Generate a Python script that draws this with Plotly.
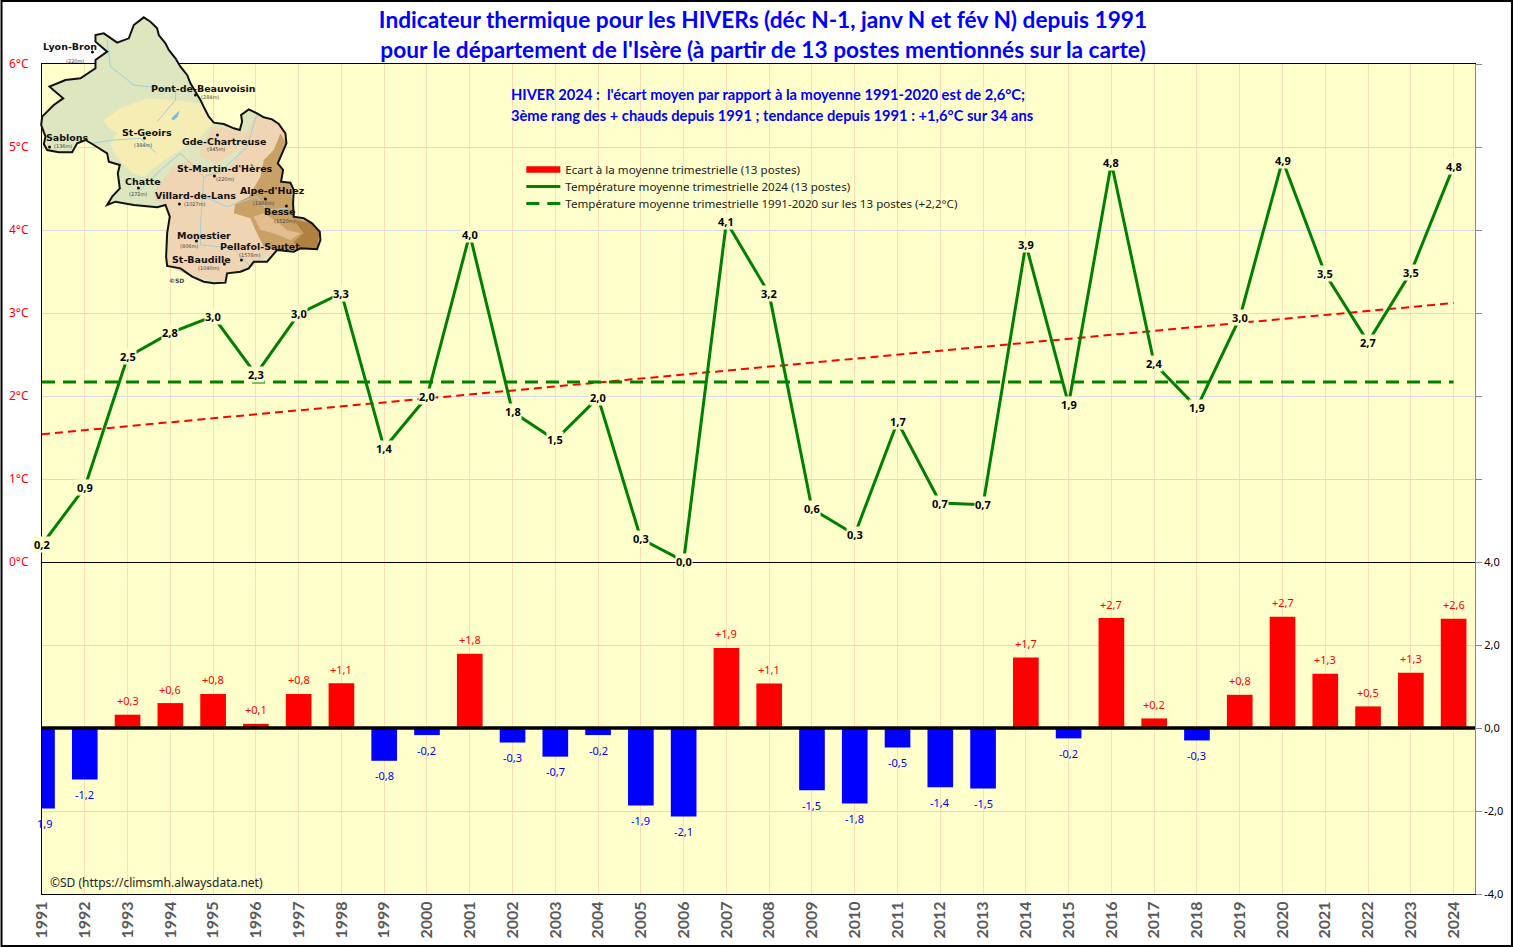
import plotly.graph_objects as go

years = list(range(1991, 2025))
temperature = [0.21, 0.90, 2.47, 2.76, 2.96, 2.26, 2.99, 3.24, 1.37, 1.99, 3.95, 1.81, 1.47, 1.98, 0.28, 0.01, 4.10,
               3.23, 0.64, 0.33, 1.69, 0.71, 0.69, 3.83, 1.90, 4.81, 2.39, 1.86, 2.94, 4.84, 3.47, 2.65, 3.49, 4.77]
temperature_labels = ["0,2", "0,9", "2,5", "2,8", "3,0", "2,3", "3,0", "3,3", "1,4", "2,0", "4,0", "1,8", "1,5", "2,0",
                      "0,3", "0,0", "4,1", "3,2", "0,6", "0,3", "1,7", "0,7", "0,7", "3,9", "1,9", "4,8", "2,4", "1,9",
                      "3,0", "4,9", "3,5", "2,7", "3,5", "4,8"]
anomaly = [-1.94, -1.24, 0.32, 0.60, 0.82, 0.10, 0.82, 1.08, -0.79, -0.17, 1.79, -0.35, -0.69, -0.17, -1.87, -2.13,
           1.93, 1.07, -1.50, -1.82, -0.47, -1.43, -1.46, 1.70, -0.25, 2.65, 0.23, -0.30, 0.80, 2.68, 1.31, 0.52, 1.33,
           2.63]
anomaly_labels = ["1,9", "-1,2", "+0,3", "+0,6", "+0,8", "+0,1", "+0,8", "+1,1", "-0,8", "-0,2", "+1,8", "-0,3", "-0,7",
                  "-0,2", "-1,9", "-2,1", "+1,9", "+1,1", "-1,5", "-1,8", "-0,5", "-1,4", "-1,5", "+1,7", "-0,2",
                  "+2,7", "+0,2", "-0,3", "+0,8", "+2,7", "+1,3", "+0,5", "+1,3", "+2,6"]
mean_years = [1991, 2024]
mean_values = [2.17, 2.17]
trend_years = [1991, 2024]
trend_values = [1.54, 3.12]
left_ticks = [-4, -3, -2, -1, 0, 1, 2, 3, 4, 5, 6]
left_text = ["", "", "", "", "0°C", "1°C", "2°C", "3°C", "4°C", "5°C", "6°C"]
right_ticks = [-4, -2, 0, 2, 4, 6, 8, 10, 12, 14, 16]
right_text = ["-4,0", "-2,0", "0,0", "2,0", "4,0", "", "", "", "", "", ""]

W, H = 1513, 947
L, R, T, B = 41.5, 1475, 64, 894
TITLE = "Indicateur thermique pour les HIVERs (déc N-1, janv N et fév N) depuis 1991<br>pour le département de l'Isère (à partir de 13 postes mentionnés sur la carte)"
INFO = ["HIVER 2024 :  l'écart moyen par rapport à la moyenne 1991-2020 est de 2,6°C;",
        "3ème rang des + chauds depuis 1991 ; tendance depuis 1991 : +1,6°C sur 34 ans"]
LEG = ["Ecart à la moyenne trimestrielle (13 postes)", "Température moyenne trimestrielle 2024 (13 postes)",
       "Température moyenne trimestrielle 1991-2020 sur les 13 postes (+2,2°C)"]

# Illustration of the department (zoomed-image coordinates, 3 units per pixel)
outline = [(430,52),(450,65),(470,85),(475,105),(495,130),(505,150),(525,175),(540,200),(560,225),(570,250),(585,275),
           (600,300),(612,325),(625,350),(640,368),(670,372),(700,385),(718,390),(725,365),(722,345),(745,328),(770,340),
           (790,352),(815,358),(835,372),(855,400),(858,430),(845,460),(832,490),(848,510),(842,545),(870,548),(880,570),
           (878,610),(880,650),(910,655),(935,670),(958,695),(960,720),(950,748),(900,745),(880,755),(830,750),(800,785),
           (760,785),(745,805),(720,815),(680,820),(675,848),(640,850),(610,845),(575,830),(540,805),(500,798),(497,770),
           (500,700),(508,650),(495,615),(470,622),(400,615),(345,605),(320,615),(335,590),(358,565),(352,520),(358,495),
           (325,485),(320,460),(280,435),(255,420),(230,430),(215,457),(175,457),(140,450),(130,432),(135,410),(122,375),
           (125,350),(160,315),(188,295),(170,280),(147,260),(195,240),(240,235),(285,205),(285,180),(320,155),(285,125),
           (285,105),(310,100),(350,128),(385,115),(400,75)]
yellow = [(310,360),(360,325),(440,295),(520,300),(600,310),(640,370),(590,420),(540,450),(480,490),(430,530),(395,520),
          (340,460),(330,430),(350,400),(320,380)]
chartreuse = [(600,440),(640,380),(700,390),(740,400),(710,450),(650,490),(600,470)]
peach = [(750,370),(770,340),(815,358),(855,400),(858,430),(845,460),(832,490),(848,510),(842,545),(870,548),(880,650),
         (958,695),(950,748),(830,750),(745,805),(680,820),(675,848),(575,830),(500,798),(508,650),(495,615),(460,600),
         (470,560),(520,500),(570,480),(605,520),(680,510),(710,470)]
brown = [(840,400),(858,430),(832,490),(848,510),(842,545),(870,548),(880,650),(935,670),(958,695),(950,748),(830,750),
         (790,740),(765,690),(750,655),(700,640),(705,610),(745,590),(780,530),(790,480),(820,450)]
brown_light = [(760,650),(790,640),(830,665),(860,690),(900,700),(870,720),(820,700),(780,690)]
brown_dark = [(880,660),(935,670),(958,695),(950,748),(900,745),(880,725),(910,700)]
valleys = [[(320,120),(330,200),(400,255),(525,270)], [(525,270),(525,300),(470,365)],
           [(275,430),(340,420),(420,415),(465,458)], [(770,340),(740,440),(660,515),(610,530),(600,680),(600,735),(700,745),(750,800)],
           [(610,530),(540,460),(480,510),(430,560),(400,590)], [(610,590),(680,620),(770,590),(800,630),(860,625)]]
lake = [(515,355),(535,335),(530,350),(518,360)]
stations = ["Lyon-Bron", "Pont-de-Beauvoisin", "Sablons", "St-Geoirs", "Gde-Chartreuse", "St-Martin-d'Hères", "Chatte",
            "Villard-de-Lans", "Alpe-d'Huez", "Besse", "Monestier", "Pellafol-Sautet", "St-Baudille"]
station_x = [70, 203, 67, 147, 224, 225, 143, 195, 272, 279, 204, 260, 201]
station_y = [46, 88, 137, 132, 141, 168, 181, 195, 190, 212, 235, 246, 259]
altitudes = ["(220m)", "(284m)", "(136m)", "(384m)", "(945m)", "(220m)", "(272m)", "(1027m)", "(1860m)", "(1520m)",
             "(806m)", "(1578m)", "(1040m)"]
alt_x = [75, 210, 63, 143, 216, 225, 138, 195, 264, 285, 189, 250, 209]
alt_y = [61, 97, 146, 145, 149, 179, 194, 204, 203, 221, 246, 255, 268]
dot_x = [92, 195, 49, 144, 217, 214, 138, 179, 265, 286, 196, 241, 224]
dot_y = [52, 95, 147, 138, 135, 176, 188, 204, 199, 206, 241, 260, 264]


def px(x):
    return (x - L) / (R - L)


def py(y):
    return (B - y) / (B - T)


def path(points, closed=True):
    s = " ".join(("M" if i == 0 else "L") + f" {px(x / 3):.5f} {py(y / 3):.5f}" for i, (x, y) in enumerate(points))
    return s + (" Z" if closed else "")


def region(points, fill, line="rgba(0,0,0,0)", width=0):
    return dict(type="path", xref="paper", yref="paper", path=path(points), fillcolor=fill, layer="above",
                line=dict(color=line, width=width))


shapes = [region(outline, "#DDE6BE"), region(yellow, "#F5EDB4"), region(chartreuse, "#F0D6B2"), region(peach, "#F0D5B4"),
          region(brown, "#C9A066"), region(brown_light, "#E2BE8E"), region(brown_dark, "#B08040")]
for v in valleys:
    shapes.append(dict(type="path", xref="paper", yref="paper", path=path(v, False), layer="above",
                       line=dict(color="#9FD0D8", width=1)))
shapes.append(region(lake, "#6FB8EE", "#6FB8EE", 1))
shapes.append(dict(type="path", xref="paper", yref="paper", path=path(outline), layer="above",
                   fillcolor="rgba(0,0,0,0)", line=dict(color="#111111", width=2)))
for x, y in zip(dot_x, dot_y):
    shapes.append(dict(type="circle", xref="paper", yref="paper", layer="above", fillcolor="#111111",
                       x0=px(x - 1.5), x1=px(x + 1.5), y0=py(y + 1.5), y1=py(y - 1.5), line=dict(width=0)))
# thick zero line of the anomaly scale
shapes.append(dict(type="line", xref="paper", yref="y2", x0=0, x1=1, y0=0, y1=0, layer="above",
                   line=dict(color="#000000", width=3.5)))
# page frame
shapes.append(dict(type="rect", xref="paper", yref="paper", x0=px(1), x1=px(W - 1), y0=py(H - 1), y1=py(1),
                   layer="above", line=dict(color="#000000", width=2), fillcolor="rgba(0,0,0,0)"))

fig = go.Figure()
fig.add_trace(go.Bar(x=years, y=anomaly, yaxis="y2", width=0.6, showlegend=False, hoverinfo="skip",
                     marker=dict(color=["#FF0000" if v >= 0 else "#0000FF" for v in anomaly], line=dict(width=0))))
fig.add_trace(go.Scatter(x=[None], y=[None], mode="lines", name=LEG[0], legend="legend",
                         line=dict(color="#FF0000", width=6.5)))
fig.add_trace(go.Scatter(x=trend_years, y=trend_values, mode="lines", showlegend=False,
                         line=dict(color="#FF0000", width=2, dash="8px,5px")))
fig.add_trace(go.Scatter(x=mean_years, y=mean_values, mode="lines", name=LEG[2], legend="legend3",
                         line=dict(color="#008000", width=3, dash="13px,8px")))
fig.add_trace(go.Scatter(x=years, y=temperature, mode="lines", name=LEG[1], legend="legend2",
                         line=dict(color="#008000", width=3)))

annotations = []
for yr, v, t in zip(years, temperature, temperature_labels):
    annotations.append(dict(x=yr, y=v, xref="x", yref="y", text=t, showarrow=False, bgcolor="#FFFFCC", borderpad=0,
                            font=dict(family="Noto Sans", size=11, color="#000000", weight="bold")))
for yr, v, t in zip(years, anomaly, anomaly_labels):
    annotations.append(dict(x=yr, y=v, xref="x", yref="y2", text=t, showarrow=False, yshift=14 if v > 0 else -15,
                            xshift=3 if yr == 1991 else 0,
                            font=dict(family="Noto Sans", size=11, color="#FF0000" if v > 0 else "#0000FF")))
for line_text, y in zip(INFO, [94.5, 114.5]):
    annotations.append(dict(x=px(509), y=py(y), xref="paper", yref="paper", xanchor="left", yanchor="middle",
                            text=line_text, showarrow=False,
                            font=dict(family="Lato", size=14.7, color="#0000FF", weight="bold")))
annotations.append(dict(x=px(48), y=py(882), xref="paper", yref="paper", xanchor="left", yanchor="middle",
                        showarrow=False, text="©SD (https://climsmh.alwaysdata.net)",
                        font=dict(family="Noto Sans", size=12, color="#222222")))
for n, x, y in zip(stations, station_x, station_y):
    annotations.append(dict(x=px(x), y=py(y), xref="paper", yref="paper", xanchor="center", yanchor="middle", text=n,
                            showarrow=False, font=dict(family="DejaVu Sans", size=9.5, color="#111111", weight="bold")))
for n, x, y in zip(altitudes, alt_x, alt_y):
    annotations.append(dict(x=px(x), y=py(y), xref="paper", yref="paper", xanchor="center", yanchor="middle", text=n,
                            showarrow=False, font=dict(family="DejaVu Sans", size=5, color="#444444")))
annotations.append(dict(x=px(176), y=py(280), xref="paper", yref="paper", xanchor="center", yanchor="middle",
                        text="©SD", showarrow=False,
                        font=dict(family="DejaVu Sans", size=6, color="#444444", weight="bold")))


def legend_at(y):
    return dict(x=px(521), y=py(y), xanchor="left", yanchor="top", bgcolor="rgba(0,0,0,0)",
                font=dict(family="Noto Sans", size=11.6, color="#222222"), itemwidth=34)


fig.update_layout(
    width=W, height=H, autosize=False,
    margin=dict(l=L, r=W - R, t=T, b=H - B, pad=0, autoexpand=False),
    paper_bgcolor="#FFFFFF", plot_bgcolor="#FFFFCC",
    title=dict(text=TITLE, x=763 / W, xanchor="center", y=1 - 28 / H, yanchor="middle", automargin=False,
               font=dict(family="Lato", size=22.7, color="#0000FF", weight="bold")),
    xaxis=dict(range=[1991, 2024.5], tickmode="array", tickvals=years, ticktext=[str(y) for y in years], tickangle=-90,
               automargin=False, showgrid=True, gridcolor="#FBDDB8", gridwidth=1, zeroline=False, showline=True,
               linecolor="#000000", linewidth=1, mirror=True, ticks="", ticklabelstandoff=0,
               tickfont=dict(family="Lato", size=16, color="#595959", weight="bold")),
    yaxis=dict(range=[-4, 6], tickmode="array", tickvals=left_ticks, ticktext=left_text, showgrid=True, automargin=False,
               gridcolor="#D9D9E6", gridwidth=1, zeroline=True, zerolinecolor="#000000", zerolinewidth=1, showline=True,
               linecolor="#000000", linewidth=1, ticks="", ticklabelstandoff=10,
               tickfont=dict(family="Noto Sans", size=12, color="#FF0000")),
    yaxis2=dict(range=[-4, 16], overlaying="y", side="right", anchor="x", tickmode="array", tickvals=right_ticks,
                automargin=False, ticktext=right_text, showgrid=False, zeroline=False, showline=True,
                linecolor="#868686", linewidth=1, ticks="outside", ticklen=6, tickcolor="#868686",
                tickfont=dict(family="Noto Sans", size=11, color="#000000")),
    legend=legend_at(155), legend2=legend_at(172), legend3=legend_at(189),
    bargap=0.4, shapes=shapes, annotations=annotations, showlegend=True,
)

fig.write_html("out.html", config={"displayModeBar": False},
               post_script="document.body.style.margin='0';document.body.style.overflow='hidden';")
